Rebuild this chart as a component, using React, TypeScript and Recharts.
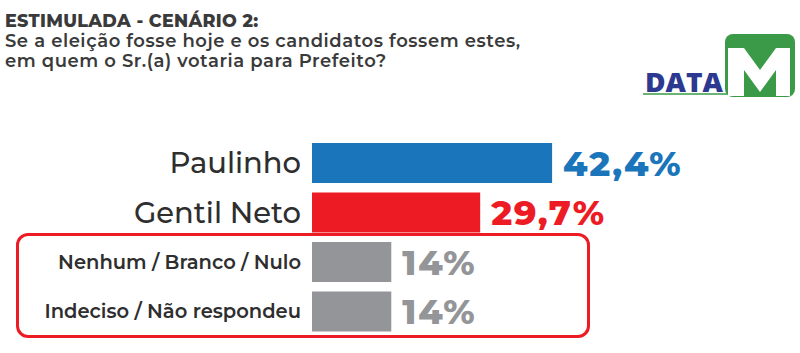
import React from "react";
import { BarChart, Bar, XAxis, YAxis, Cell, LabelList } from "recharts";

const categories = ["Paulinho", "Gentil Neto", "Nenhum / Branco / Nulo", "Indeciso / Não respondeu"];
const values = [42.4, 29.7, 14, 14];
const barColors = ["#1b75bb", "#ed1c24", "#939598", "#939598"];
const labelColors = ["#1b75bb", "#ed1c24", "#939598", "#939598"];
const featured = [true, true, false, false];

const title = "ESTIMULADA - CENÁRIO 2:";
const question = [
  "Se a eleição fosse hoje e os candidatos fossem estes,",
  "em quem o Sr.(a) votaria para Prefeito?",
];

const FONT = "Montserrat, 'Open Sans', sans-serif";

const fmt = (v: number) => (Number.isInteger(v) ? `${v}%` : `${v.toFixed(1).replace(".", ",")}%`);

const data = categories.map((name, i) => ({ name, value: values[i] }));

const CategoryTick = (props: any) => {
  const { y, payload, index } = props;
  const big = featured[index];
  return (
    <text
      x={301}
      y={y}
      dy="0.36em"
      textAnchor="end"
      fontFamily={FONT}
      fontSize={big ? 29 : 19.5}
      fontWeight={big ? 500 : 600}
      fill="#2e2e2e"
    >
      {payload.value}
    </text>
  );
};

const ValueLabel = (props: any) => {
  const { x, y, width, height, value, index } = props;
  return (
    <text
      x={x + width + 11}
      y={y + height / 2}
      dy="0.36em"
      fontFamily={FONT}
      fontSize={35}
      fontWeight={800}
      letterSpacing={1.7}
      fill={labelColors[index]}
    >
      {fmt(value)}
    </text>
  );
};

const Logo = () => (
  <svg width={160} height={70} style={{ position: "absolute", left: 640, top: 30 }}>
    <text x={5} y={62} fontFamily="'Open Sans', sans-serif" fontWeight={800} fontSize={27} fill="#2b3990" textLength={78} lengthAdjust="spacingAndGlyphs">
      DATA
    </text>
    <line x1={3} y1={64} x2={87} y2={64} stroke="#3a9a47" strokeWidth={1.5} />
    <rect x={85} y={4} width={70} height={63} rx={8} fill="#3a9a47" />
    <polygon points="88,18 104,18 120,40 136,18 150,18 150,66 136,66 136,40 120,62 104,40 104,66 88,66" fill="#fff" />
  </svg>
);

export default function App() {
  return (
    <div style={{ position: "absolute", left: 0, top: 0, width: 800, height: 353, background: "#fff", overflow: "hidden" }}>
      <div style={{ position: "absolute", left: 5, top: 11, fontFamily: FONT, color: "#3a3a3a", lineHeight: "20px" }}>
        <div style={{ fontWeight: 800, fontSize: 17.5, letterSpacing: 0.3 }}>{title}</div>
        {question.map((q) => (
          <div key={q} style={{ fontWeight: 600, fontSize: 18, letterSpacing: 0.55 }}>
            {q}
          </div>
        ))}
      </div>
      <Logo />
      <div
        style={{
          position: "absolute",
          left: 16,
          top: 233,
          width: 568,
          height: 99,
          border: "3px solid #ed1c24",
          borderRadius: 12,
        }}
      />
      <div style={{ position: "absolute", left: 0, top: 0 }}>
        <BarChart
          width={800}
          height={353}
          data={data}
          layout="vertical"
          margin={{ top: 138, right: 35, left: 0, bottom: 17 }}
          barCategoryGap={0}
        >
          <XAxis type="number" domain={[0, 80]} hide />
          <YAxis type="category" dataKey="name" width={312} axisLine={false} tickLine={false} tick={<CategoryTick />} />
          <Bar dataKey="value" barSize={40} isAnimationActive={false}>
            {data.map((d, i) => (
              <Cell key={d.name} fill={barColors[i]} />
            ))}
            <LabelList dataKey="value" content={<ValueLabel />} />
          </Bar>
        </BarChart>
      </div>
    </div>
  );
}
